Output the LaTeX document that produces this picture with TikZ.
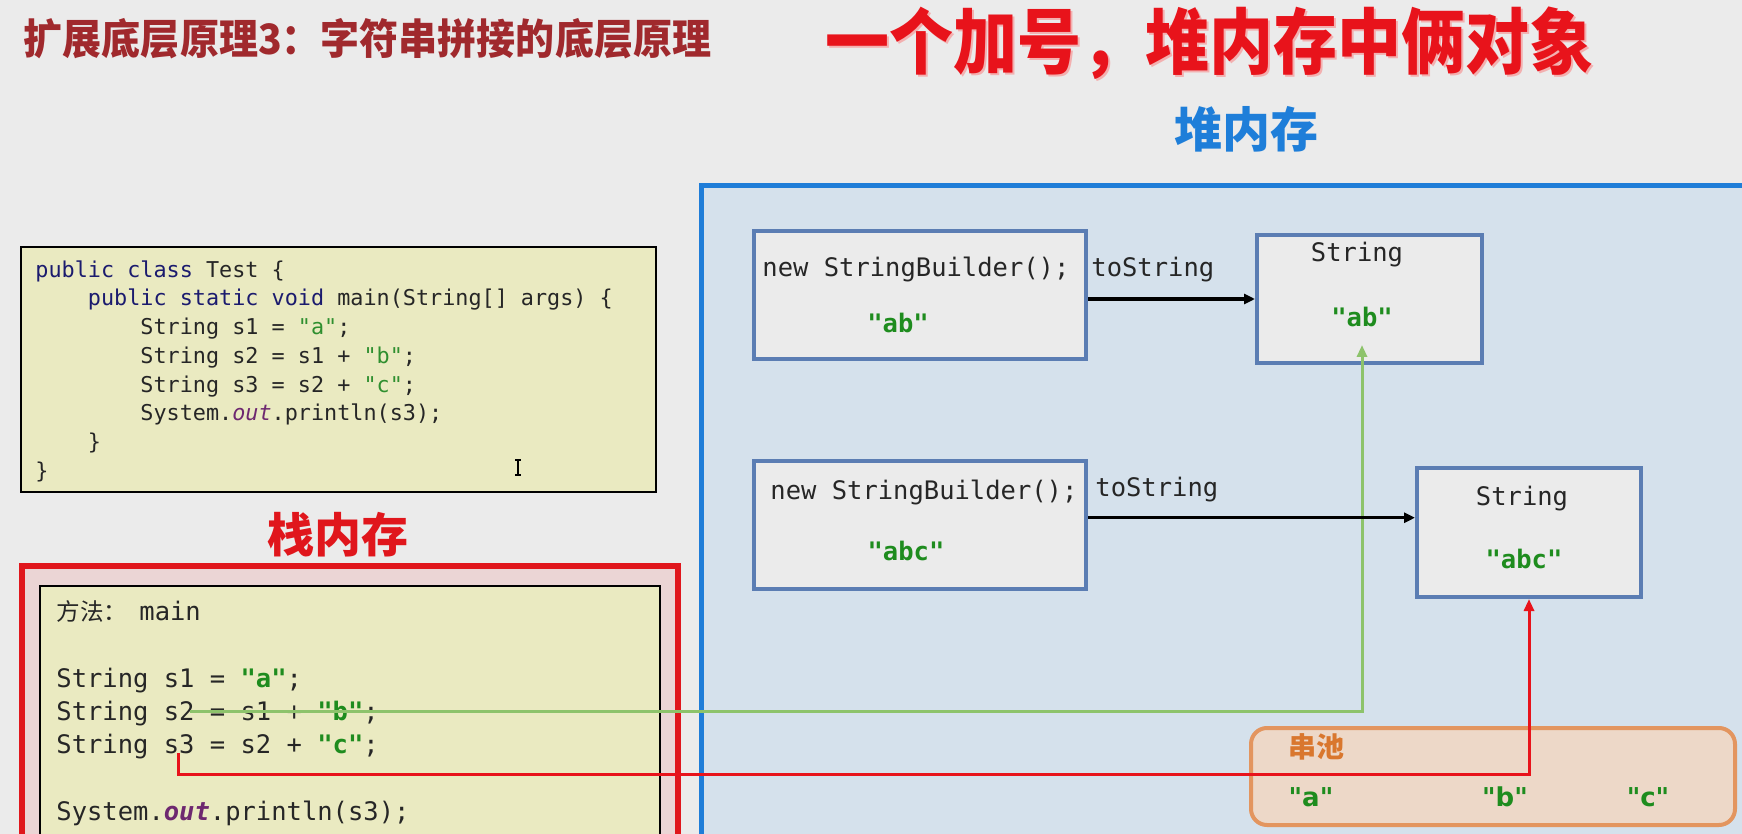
\documentclass[tikz,border=0pt]{standalone}
\usepackage{fontspec}
\usepackage{xcolor}
\usepackage{graphicx}
\usetikzlibrary{arrows.meta,fit,calc}
\newfontfamily\cjk{Noto Sans CJK SC}
\newfontfamily\codefont{DejaVu Sans Mono}
\newfontfamily\dvsans{DejaVu Sans}
\definecolor{bgc}{HTML}{EBEBEB}
\definecolor{heapfill}{HTML}{D5E1EC}
\definecolor{heapblue}{HTML}{1F7DD8}
\definecolor{stackfill}{HTML}{EBD5D5}
\definecolor{stackred}{HTML}{E0161C}
\definecolor{codebg}{HTML}{EAEAC1}
\definecolor{boxfill}{HTML}{EBEBEB}
\definecolor{boxblue}{HTML}{5B7DB3}
\definecolor{poolfill}{HTML}{EDD8C8}
\definecolor{poolline}{HTML}{E3955F}
\definecolor{pooltext}{HTML}{D9772E}
\definecolor{strB}{HTML}{1E8C1E}
\definecolor{strA}{HTML}{2F8F2F}
\definecolor{kw}{HTML}{1B1B6E}
\definecolor{purp}{HTML}{6E2870}
\definecolor{txt}{HTML}{262626}
\definecolor{titleA}{HTML}{A0292D}
\definecolor{titleB}{HTML}{E8131B}
\definecolor{shadowc}{HTML}{F3B0B0}
\definecolor{heaplab}{HTML}{1E7ED9}
\definecolor{greenline}{HTML}{8DC36B}
\definecolor{redline}{HTML}{E8131B}
\tikzset{
  codeA/.style={anchor=base west, inner sep=0pt, text=txt, font=\codefont\fontsize{10.9}{13}\selectfont},
  codeB/.style={anchor=base west, inner sep=0pt, text=txt, font=\codefont\fontsize{12.75}{15}\selectfont},
  valstr/.style={anchor=base, inner sep=0pt, text=strB, font=\codefont\bfseries\fontsize{12.75}{15}\selectfont},
  heapbox/.style={draw=boxblue, line width=2pt, fill=boxfill, inner sep=0pt},
  codebox/.style={draw=black, line width=1pt, fill=codebg, inner sep=0pt},
  stackframe/.style={draw=stackred, line width=2.8pt, fill=stackfill, inner sep=0pt},
  heapframe/.style={draw=heapblue, line width=2.5pt, fill=heapfill, inner sep=0pt},
  poolbox/.style={draw=poolline, line width=2pt, fill=poolfill, rounded corners=8pt, inner sep=0pt},
  poolstr/.style={anchor=base, inner sep=0pt, text=strB, font=\dvsans\bfseries\fontsize{13}{15}\selectfont},
  blkarrow/.style={line width=1.6pt, black, -{Triangle[length=5.5pt,width=5pt]}},
  grnarrow/.style={line width=1.5pt, greenline, -{Triangle[length=6pt,width=5pt]}},
  redarrow/.style={line width=1.5pt, redline, -{Triangle[length=6pt,width=5pt]}},
}
\begin{document}
\begin{tikzpicture}[x=0.5pt,y=-0.5pt]
\useasboundingbox (0,0) rectangle (1742,834);
\clip (0,0) rectangle (1742,834);
\fill[bgc] (0,0) rectangle (1742,834);

% titles
\node[inner sep=0pt, text=titleA, font=\cjk\bfseries\fontsize{19}{22}\selectfont] (title) at (367.5,39) {\scalebox{1.027}[1.1]{扩展底层原理3：字符串拼接的底层原理}};
\node[inner sep=0pt, text=shadowc, font=\cjk\bfseries\fontsize{32}{36}\selectfont] (title2s) at (1211.5,45) {\scalebox{1}[1.12]{一个加号，堆内存中俩对象}};
\node[inner sep=0pt, text=titleB, font=\cjk\bfseries\fontsize{32}{36}\selectfont] (title2) at (1209.5,43) {\scalebox{1}[1.12]{一个加号，堆内存中俩对象}};
\node[inner sep=0pt, text=heaplab, font=\cjk\bfseries\fontsize{24}{28}\selectfont] (heaplabel) at (1246,129) {堆内存};
\node[inner sep=0pt, text=stackred, font=\cjk\bfseries\fontsize{23.5}{28}\selectfont] (stacklabel) at (338,535) {栈内存};

% heap region
\node[heapframe, fit={(701,186) (1800,900)}] (heap) {};

% top code box
\node[codebox, fit={(21,247) (656,492)}] (code) {};
\node[codeA] (c1) at (35,277.3) {{\color{kw}public class} Test \{};
\node[codeA] (c2) at (87.5,306) {{\color{kw}public static void} main(String[] args) \{};
\node[codeA] (c3) at (140,334.7) {String s1 = {\color{strA}"a"};};
\node[codeA] (c4) at (140,363.4) {String s2 = s1 + {\color{strA}"b"};};
\node[codeA] (c5) at (140,392.1) {String s3 = s2 + {\color{strA}"c"};};
\node[codeA] (c6) at (140,420.8) {System.{\color{purp}\itshape out}.println(s3);};
\node[codeA] (c7) at (87.5,449.5) {\}};
\node[codeA] (c8) at (35,478.2) {\}};
\draw[line width=0.6pt, black] (518,460) -- (518,475) (515,460) -- (521,460) (515,475) -- (521,475);

% stack
\node[stackframe, fit={(22,566) (678,900)}] (stack) {};
\node[codebox, fit={(40,586) (660,900)}] (frame) {};
\node[inner sep=0pt, anchor=base west, text=txt, font=\cjk\fontsize{11.8}{14}\selectfont] (m0) at (56,620.5) {方法：};
\node[codeB] (m1) at (139,620.5) {main};
\node[codeB] (m2) at (56,687) {String s1 = {\bfseries\color{strB}"a"};};
\node[codeB] (m3) at (56,720.4) {String s2 = s1 + {\bfseries\color{strB}"b"};};
\node[codeB] (m4) at (56,753.8) {String s3 = s2 + {\bfseries\color{strB}"c"};};
\node[codeB] (m5) at (56,820.6) {System.{\bfseries\itshape\color{purp}out}.println(s3);};

% heap objects
\node[heapbox, fit={(754,231) (1086,359)}] (sb1) {};
\node[heapbox, fit={(1257,235) (1482,363)}] (str1) {};
\node[heapbox, fit={(754,461) (1086,589)}] (sb2) {};
\node[heapbox, fit={(1417,468) (1641,597)}] (str2) {};

\node[codeB] (sb1t) at (762,277) {new StringBuilder();};
\node[valstr] (sb1v) at (898,333) {"ab"};
\node[codeB, anchor=base] (str1t) at (1357,262) {String};
\node[valstr] (str1v) at (1362,327) {"ab"};
\node[codeB] (sb2t) at (770,500) {new StringBuilder();};
\node[valstr] (sb2v) at (906,560) {"abc"};
\node[codeB, anchor=base] (str2t) at (1522,505) {String};
\node[valstr] (str2v) at (1524,568) {"abc"};

% string pool
\node[poolbox, fit={(1251,728) (1735,825)}] (pool) {};
\node[inner sep=0pt, text=pooltext, font=\cjk\bfseries\fontsize{14}{16}\selectfont] (pooltitle) at (1316,747) {串池};
\node[poolstr] (pa) at (1311,806) {"a"};
\node[poolstr] (pb) at (1505,806) {"b"};
\node[poolstr] (pc) at (1648,806) {"c"};

% connectors
\coordinate (g0) at (190,711);
\coordinate (gEnd) at (1362,345);
\draw[grnarrow] (g0) -| (gEnd);
\coordinate (r0) at (178,753);
\draw[redarrow] (r0) |- ($(pool.north west)!0.485!(pool.south west)$) -| (str2.south);

\draw[blkarrow] (sb1.east |- str1.west) -- (str1.west);
\node[codeB] (lab1) at (1091,277) {toString};
\draw[blkarrow] ($(sb2.north east)!0.445!(sb2.south east)$) coordinate (a2s) -- (a2s -| str2.west);
\node[codeB] (lab2) at (1095,496) {toString};
\end{tikzpicture}
\end{document}
